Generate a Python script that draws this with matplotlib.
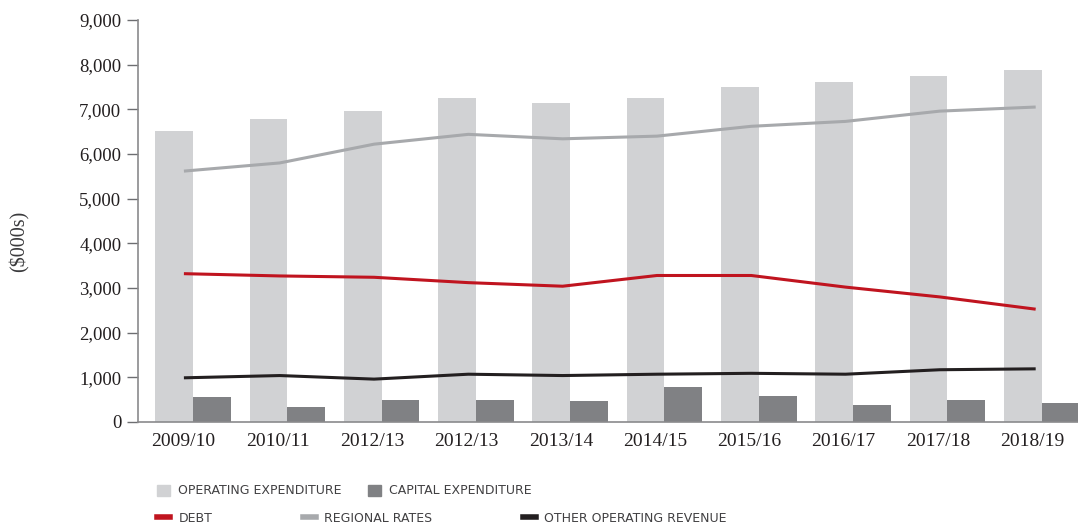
import numpy as np
import matplotlib
matplotlib.use("Agg")
import matplotlib.pyplot as plt
from matplotlib.patches import Patch
from matplotlib.lines import Line2D

years = ["2009/10", "2010/11", "2012/13", "2012/13", "2013/14",
         "2014/15", "2015/16", "2016/17", "2017/18", "2018/19"]
operating_exp = [6510, 6780, 6960, 7260, 7140, 7260, 7500, 7610, 7750, 7880]
capital_exp = [570, 330, 500, 500, 460, 790, 590, 390, 500, 430]
regional_rates = [5620, 5800, 6220, 6440, 6340, 6400, 6620, 6730, 6960, 7050]
debt = [3320, 3270, 3240, 3120, 3040, 3280, 3280, 3020, 2800, 2530]
other_rev = [990, 1040, 960, 1070, 1040, 1070, 1090, 1070, 1170, 1190]

c_light = "#d1d2d4"
c_dark = "#808184"
c_red = "#c0141f"
c_grey = "#a7a9ac"
c_black = "#231f20"
c_text = "#231f20"

fig = plt.figure(figsize=(10.78, 5.26), dpi=100)
ax = fig.add_axes([138/1078, 104/526, 940/1078, 402/526])

x = np.arange(len(years))
w = 0.40
ax.bar(x - w/2, operating_exp, w, color=c_light, zorder=1)
ax.bar(x + w/2, capital_exp, w, color=c_dark, zorder=1)
ax.plot(x - 0.08, regional_rates, color=c_grey, lw=2.2, zorder=2)
ax.plot(x - 0.08, debt, color=c_red, lw=2.2, zorder=2)
ax.plot(x - 0.08, other_rev, color=c_black, lw=2.2, zorder=2)

ax.set_xlim(-0.583, 9.385)
ax.set_ylim(0, 9000)
ax.set_yticks(np.arange(0, 9001, 1000))
ax.set_yticklabels([f"{v:,}" for v in range(0, 9001, 1000)])
ax.set_xticks(x - 0.1)
ax.set_xticklabels(years)

for s in ["top", "right"]:
    ax.spines[s].set_visible(False)
for s in ["left", "bottom"]:
    ax.spines[s].set_color("#8a8a8c")
    ax.spines[s].set_linewidth(1.2)

ax.tick_params(axis="y", direction="out", length=8, width=1, color="#6d6e71",
               pad=4, labelsize=13.5, labelcolor=c_text)
ax.tick_params(axis="x", length=0, pad=8, labelsize=14, labelcolor=c_text)
for lab in ax.get_xticklabels() + ax.get_yticklabels():
    lab.set_fontfamily("Liberation Serif")

fig.text(20/1078, 1 - 241/526, "($000s)", rotation=90, ha="center", va="center",
         fontsize=14.5, color="#3a3a3c", family="Liberation Serif")

# legend, drawn item by item to keep the uneven spacing
items = [
    (Patch(color=c_light), "OPERATING EXPENDITURE", 157, 491),
    (Patch(color=c_dark), "CAPITAL EXPENDITURE", 368, 491),
    (Line2D([], [], color=c_red, lw=4), "DEBT", 157, 518),
    (Line2D([], [], color=c_grey, lw=4), "REGIONAL RATES", 303, 518),
    (Line2D([], [], color=c_black, lw=4), "OTHER OPERATING REVENUE", 523, 518),
]
for h, lbl, px, py in items:
    fig.legend([h], [lbl], loc="center left",
               bbox_to_anchor=(px/1078, 1 - py/526),
               frameon=False, fontsize=9, handlelength=1.0, handleheight=1.0,
               handletextpad=0.7, borderpad=0, borderaxespad=0,
               labelcolor="#414042")

fig.savefig("out.png", dpi=100)
